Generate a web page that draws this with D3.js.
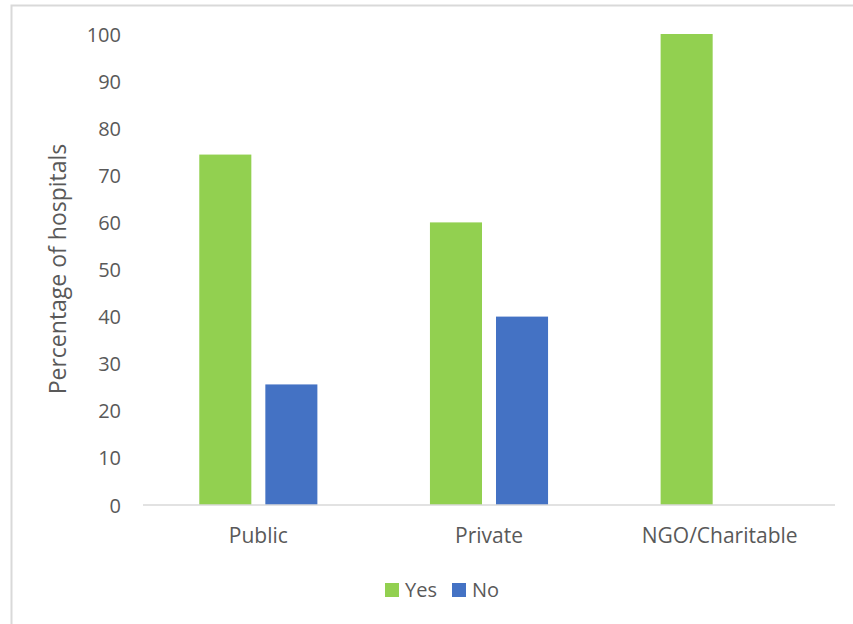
<!DOCTYPE html>
<html>
<head>
<meta charset="utf-8">
<script src="https://cdn.jsdelivr.net/npm/d3@7"></script>
<style>
  html, body { margin: 0; padding: 0; background: #fff; }
  text { font-family: "Open Sans", "Noto Sans", sans-serif; fill: #595959; }
</style>
</head>
<body>
<svg id="chart" width="853" height="624"></svg>
<script>
// Hospital type categories and response series
const categories = ["Public", "Private", "NGO/Charitable"];
const series = ["Yes", "No"];
const yesValues = [74.4, 60, 100];
const noValues = [25.6, 40, 0];
const yTicks = [0, 10, 20, 30, 40, 50, 60, 70, 80, 90, 100];
const yLabel = "Percentage of hospitals";
const colors = { Yes: "#92D050", No: "#4472C4" };

const svg = d3.select("#chart");
const W = 853, H = 624;
const plot = { left: 143, right: 835, top: 34, bottom: 505 };

// Outer frame
svg.append("rect")
  .attr("x", 11.5).attr("y", 5.5)
  .attr("width", W + 10).attr("height", H + 10)
  .attr("fill", "none").attr("stroke", "#d9d9d9").attr("stroke-width", 2);

const x0 = d3.scaleBand().domain(categories).range([plot.left, plot.right]).padding(0);
const groupW = x0.bandwidth() * 0.512;
const x1 = d3.scaleBand().domain(series)
  .range([(x0.bandwidth() - groupW) / 2, (x0.bandwidth() + groupW) / 2])
  .paddingInner(0.212).paddingOuter(0);
const y = d3.scaleLinear().domain([0, 100]).range([plot.bottom, plot.top]);

const rows = categories.map((c, i) => ({ cat: c, Yes: yesValues[i], No: noValues[i] }));

// Bars
const groups = svg.append("g").selectAll("g").data(rows).join("g")
  .attr("transform", d => `translate(${x0(d.cat)},0)`);
groups.selectAll("rect")
  .data(d => series.map(s => ({ s, v: d[s] })).filter(e => e.v > 0))
  .join("rect")
  .attr("x", d => x1(d.s))
  .attr("width", x1.bandwidth())
  .attr("y", d => y(d.v))
  .attr("height", d => y(0) - y(d.v))
  .attr("fill", d => colors[d.s]);

// Baseline
svg.append("line")
  .attr("x1", plot.left).attr("x2", plot.right)
  .attr("y1", y(0)).attr("y2", y(0))
  .attr("stroke", "#d9d9d9").attr("stroke-width", 1.5);

// Y axis labels
const yAxis = d3.axisLeft(y).tickValues(yTicks).tickSize(0).tickPadding(0).tickFormat(d3.format("d"));
const yg = svg.append("g").attr("transform", "translate(121,0)").call(yAxis);
yg.select(".domain").remove();
yg.selectAll("text").style("font-size", "20px").attr("fill", "#595959").attr("dy", "0.35em");

// X axis labels
const xAxis = d3.axisBottom(x0).tickSize(0).tickPadding(0);
const xg = svg.append("g").attr("transform", "translate(0,528)").call(xAxis);
xg.select(".domain").remove();
xg.selectAll("text").style("font-size", "21px").attr("fill", "#595959");

// Y axis title
svg.append("text")
  .attr("transform", "translate(66,269) rotate(-90)")
  .attr("text-anchor", "middle")
  .style("font-size", "23px")
  .text(yLabel);

// Legend
const legend = svg.append("g").attr("transform", "translate(385,583)");
const items = [{ s: "Yes", x: 0 }, { s: "No", x: 67 }];
items.forEach(it => {
  legend.append("rect").attr("x", it.x).attr("y", 0).attr("width", 14).attr("height", 14).attr("fill", colors[it.s]);
  legend.append("text").attr("x", it.x + 20).attr("y", 7).attr("dy", "0.35em")
    .style("font-size", "20px").text(it.s);
});
</script>
</body>
</html>
